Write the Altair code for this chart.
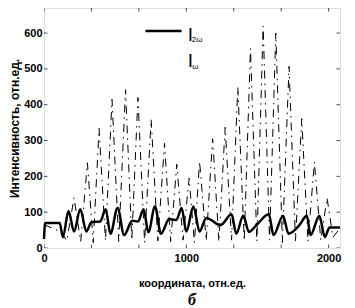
import altair as alt
import pandas as pd

# I_omega (dashed, fast fringes): x in coordinate units, y in intensity
iw_x = [0, 120, 160, 211, 258, 305, 346, 387, 432, 478, 525, 573, 617, 660, 707, 753, 800,
        847, 890, 933, 977, 1020, 1057, 1093, 1140, 1185, 1229, 1273, 1318, 1362, 1407,
        1451, 1496, 1540, 1585, 1629, 1675, 1722, 1767, 1811, 1855, 1900, 1945, 1989,
        2030, 2080]
iw_y = [65, 45, 20, 140, 18, 238, 15, 334, 20, 415, 18, 442, 22, 420, 15, 359, 20,
        292, 18, 234, 22, 195, 15, 242, 20, 305, 18, 337, 22, 449, 20,
        557, 18, 620, 22, 600, 15, 507, 20, 361, 18, 240, 22, 140,
        30, 55]

# I_2omega (solid, thick)
i2w_x = [0, 8, 110, 133, 172, 211, 255, 298, 333, 395, 433, 467, 517, 563, 620, 660,
         700, 733, 780, 822, 880, 930, 967, 1000, 1050, 1093, 1140, 1240, 1318, 1351,
         1400, 1440, 1500, 1580, 1613, 1680, 1718, 1793, 1847, 1873, 1935, 1973, 2007, 2080]
i2w_y = [25, 70, 70, 30, 103, 46, 108, 46, 72, 74, 108, 40, 112, 36, 76, 74,
         108, 44, 116, 40, 81, 78, 112, 46, 116, 46, 84, 64, 94, 40,
         90, 45, 67, 94, 36, 90, 40, 63, 90, 36, 90, 31, 57, 57]

x_label_values = [0, 1000, 2000]
x_tick_values = [0, 333.3, 666.7, 1000, 1333.3, 1666.7, 2000]
y_tick_values = [0, 100, 200, 300, 400, 500, 600]
x_domain = [0, 2080]
y_domain = [0, 670]

x_title = "координата, отн.ед."
y_title = "Интенсивность, отн.ед."
caption = "б"

FONT = "Liberation Sans"

df_iw = pd.DataFrame({"x": iw_x, "y": iw_y})
df_i2w = pd.DataFrame({"x": i2w_x, "y": i2w_y})
df_xt = pd.DataFrame({"x": x_tick_values})
df_yt = pd.DataFrame({"y": y_tick_values})
df_one = pd.DataFrame({"k": [0]})

xs = alt.Scale(domain=x_domain, nice=False, zero=False)
ys = alt.Scale(domain=y_domain, nice=False, zero=False)

x_axis = alt.Axis(values=x_label_values, format="d", ticks=False, domain=False, grid=False,
                  labelFlush=False, labelPadding=4, labelFont=FONT, labelFontSize=11,
                  labelFontWeight="bold", title=x_title, titleFont=FONT, titleFontSize=11,
                  titleFontWeight="bold", titlePadding=14, labelColor="black", titleColor="black")
y_axis = alt.Axis(values=y_tick_values, format="d", ticks=False, domain=False, grid=False,
                  labelFlush=False, labelPadding=2, labelFont=FONT, labelFontSize=11,
                  labelFontWeight="bold", title=y_title, titleFont=FONT, titleFontSize=12,
                  titleFontWeight="bold", titlePadding=2, labelColor="black", titleColor="black")


def X(field):
    return alt.X(field, scale=xs, axis=x_axis, title=x_title)


def Y(field):
    return alt.Y(field, scale=ys, axis=y_axis, title=y_title)


def XD(v):
    return alt.XDatum(v, scale=xs, axis=x_axis, title=x_title, type="quantitative")


def YD(v):
    return alt.YDatum(v, scale=ys, axis=y_axis, title=y_title, type="quantitative")


line_iw = alt.Chart(df_iw).mark_line(color="black", strokeWidth=1, strokeDash=[8, 5, 1.5, 5]).encode(
    x=X("x:Q"), y=Y("y:Q"),
)

line_i2w = alt.Chart(df_i2w).mark_line(color="black", strokeWidth=2.5, interpolate="monotone").encode(
    x=X("x:Q"), y=Y("y:Q"),
)

tick_bottom = alt.Chart(df_xt).mark_tick(color="black", orient="vertical", size=7, thickness=1, clip=True).encode(
    x=X("x:Q"), y=YD(y_domain[0]),
)
tick_top = alt.Chart(df_xt).mark_tick(color="black", orient="vertical", size=7, thickness=1, clip=True).encode(
    x=X("x:Q"), y=YD(y_domain[1]),
)
tick_left = alt.Chart(df_yt).mark_tick(color="black", orient="horizontal", size=7, thickness=1, clip=True).encode(
    y=Y("y:Q"), x=XD(x_domain[0]),
)
tick_right = alt.Chart(df_yt).mark_tick(color="black", orient="horizontal", size=7, thickness=1, clip=True).encode(
    y=Y("y:Q"), x=XD(x_domain[1]),
)

# legend (annotation)
leg_line = alt.Chart(df_one).mark_rule(color="black", strokeWidth=2.5).encode(
    x=XD(713), x2=alt.X2Datum(967), y=YD(606),
)
leg_I1 = alt.Chart(df_one).mark_text(text="I", font=FONT, fontSize=19, align="left", baseline="alphabetic", color="black").encode(
    x=XD(1010), y=YD(577),
)
leg_s1 = alt.Chart(df_one).mark_text(text="2ω", font=FONT, fontSize=8, align="left", baseline="alphabetic", color="black").encode(
    x=XD(1038), y=YD(574),
)
leg_I2 = alt.Chart(df_one).mark_text(text="I", font=FONT, fontSize=19, align="left", baseline="alphabetic", color="black").encode(
    x=XD(1010), y=YD(504),
)
leg_s2 = alt.Chart(df_one).mark_text(text="ω", font=FONT, fontSize=8, align="left", baseline="alphabetic", color="black").encode(
    x=XD(1042), y=YD(501),
)

chart = alt.layer(
    line_iw, line_i2w, tick_bottom, tick_top, tick_left, tick_right,
    leg_line, leg_I1, leg_s1, leg_I2, leg_s2,
).properties(
    width=339, height=300,
    autosize=alt.AutoSizeParams(type="fit", contains="padding"),
    padding={"left": 0, "top": 0, "right": 2, "bottom": 0},
    title=alt.TitleParams(text=caption, orient="bottom", anchor="middle", font="Liberation Serif",
                          fontSize=16, fontStyle="italic", fontWeight="bold", color="black", offset=4),
).configure_view(stroke="black", strokeWidth=1).configure(background="white")

chart.save("out.html", embed_options={"renderer": "svg", "actions": False})
